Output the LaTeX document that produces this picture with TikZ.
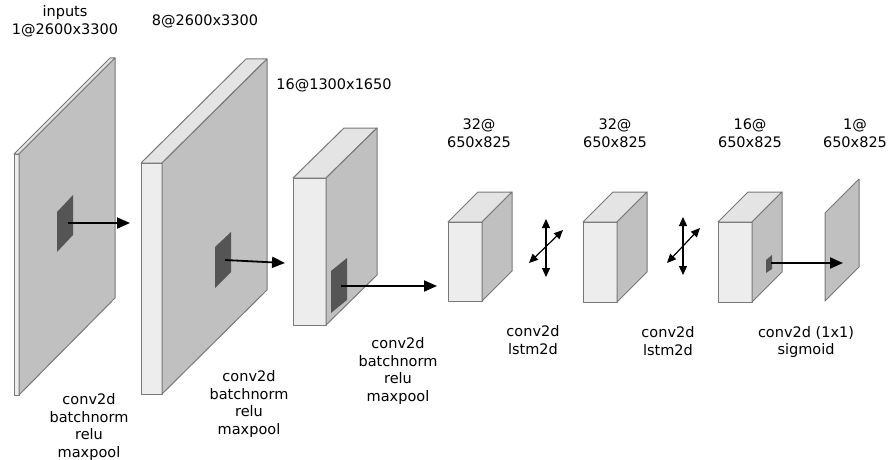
\documentclass[tikz,border=0pt]{standalone}
\usepackage{fontspec}
\setmainfont{DejaVu Sans}
\usetikzlibrary{arrows.meta}
\definecolor{edgegray}{RGB}{120,120,120}
\definecolor{sidegray}{RGB}{192,192,192}
\definecolor{frontgray}{RGB}{237,237,237}
\definecolor{topgray}{RGB}{228,228,228}
\definecolor{patchgray}{RGB}{85,85,85}
\begin{document}
\begin{tikzpicture}[x=1pt, y=-1pt,
  frontface/.style={draw=edgegray, fill=frontgray, line width=1pt, line join=round},
  sideface/.style={draw=edgegray, fill=sidegray, line width=1pt, line join=round},
  topface/.style={draw=edgegray, fill=topgray, line width=1pt, line join=round},
  patch/.style={fill=patchgray},
  flow/.style={-{Triangle[length=13pt, width=11pt]}, line width=1.8pt},
  bidir/.style={{Triangle[length=9pt, width=8pt]}-{Triangle[length=9pt, width=8pt]}, line width=1.2pt},
  lbl/.style={font=\fontsize{14.5}{17.7}\selectfont, align=center, inner sep=0pt}]
\useasboundingbox (0,0) rectangle (888,460);

% input plane
\draw[frontface] (14,154) rectangle (19,395);
\draw[topface] (14,154) -- (110,58) -- (115,58) -- (19,154) -- cycle;
\draw[sideface] (19,154) -- (115,58) -- (115,298) -- (19,395) -- cycle;
\fill[patch] (57,212) -- (73,195) -- (73,235) -- (57,252) -- cycle;
\coordinate (k1) at (68,223);

% conv block 1
\draw[frontface] (141,163) rectangle (162,394);
\draw[topface] (141,163) -- (246,59) -- (267,59) -- (162,163) -- cycle;
\draw[sideface] (162,163) -- (267,59) -- (267,290) -- (162,394) -- cycle;
\fill[patch] (215,247) -- (231,232) -- (231,272) -- (215,288) -- cycle;
\coordinate (in2) at (130,223);
\coordinate (k2) at (225,260);

% conv block 2
\draw[frontface] (293,178) rectangle (326,325);
\draw[topface] (293,178) -- (344,128) -- (377,128) -- (326,178) -- cycle;
\draw[sideface] (326,178) -- (377,128) -- (377,275) -- (326,325) -- cycle;
\fill[patch] (331,271) -- (347,258) -- (347,300) -- (331,313) -- cycle;
\coordinate (in3) at (285,263);
\coordinate (k3) at (341,286);

% conv + lstm blocks
\draw[frontface] (448,222) rectangle (482,301);
\draw[topface] (448,222) -- (478,192) -- (512,192) -- (482,222) -- cycle;
\draw[sideface] (482,222) -- (512,192) -- (512,271) -- (482,301) -- cycle;
\coordinate (in4) at (437,286);

\draw[frontface] (583,222) rectangle (617,302);
\draw[topface] (583,222) -- (613,192) -- (647,192) -- (617,222) -- cycle;
\draw[sideface] (617,222) -- (647,192) -- (647,272) -- (617,302) -- cycle;

\draw[frontface] (718,222) rectangle (752,302);
\draw[topface] (718,222) -- (748,192) -- (782,192) -- (752,222) -- cycle;
\draw[sideface] (752,222) -- (782,192) -- (782,272) -- (752,302) -- cycle;
\fill[patch] (766,260) -- (772,255) -- (772,269) -- (766,273) -- cycle;
\coordinate (k6) at (771,263);

% output plane
\draw[sideface] (825,213) -- (859,179) -- (859,267) -- (825,301) -- cycle;
\coordinate (in7) at (843,263);

% arrows
\draw[flow] (k1) -- (in2);
\draw[flow] (k2) -- (in3);
\draw[flow] (k3) -- (in4);
\draw[flow] (k6) -- (in7);

\coordinate (u1) at (546,219); \coordinate (d1) at (546,277);
\coordinate (l1) at (529,263); \coordinate (r1) at (563,230);
\draw[bidir] (u1) -- (d1);
\draw[bidir] (l1) -- (r1);
\coordinate (u2) at (683,217); \coordinate (d2) at (683,275);
\coordinate (l2) at (667,263); \coordinate (r2) at (700,228);
\draw[bidir] (u2) -- (d2);
\draw[bidir] (l2) -- (r2);

% sizes
\node[lbl] (sz1) at (65,21) {inputs\\1@2600x3300};
\node[lbl] (sz2) at (205,21) {8@2600x3300};
\node[lbl] (sz3) at (334,85) {16@1300x1650};
\node[lbl] (sz4) at (479,133) {32@\\650x825};
\node[lbl] (sz5) at (615,133) {32@\\650x825};
\node[lbl] (sz6) at (750,133) {16@\\650x825};
\node[lbl] (sz7) at (855,133) {1@\\650x825};

% operations
\node[lbl] (op1) at (89,427) {conv2d\\batchnorm\\relu\\maxpool};
\node[lbl] (op2) at (249,404) {conv2d\\batchnorm\\relu\\maxpool};
\node[lbl] (op3) at (398,371) {conv2d\\batchnorm\\relu\\maxpool};
\node[lbl] (op4) at (533,340) {conv2d\\lstm2d};
\node[lbl] (op5) at (668,341) {conv2d\\lstm2d};
\node[lbl] (op6) at (806,342) {conv2d (1x1)\\sigmoid};
\end{tikzpicture}
\end{document}
